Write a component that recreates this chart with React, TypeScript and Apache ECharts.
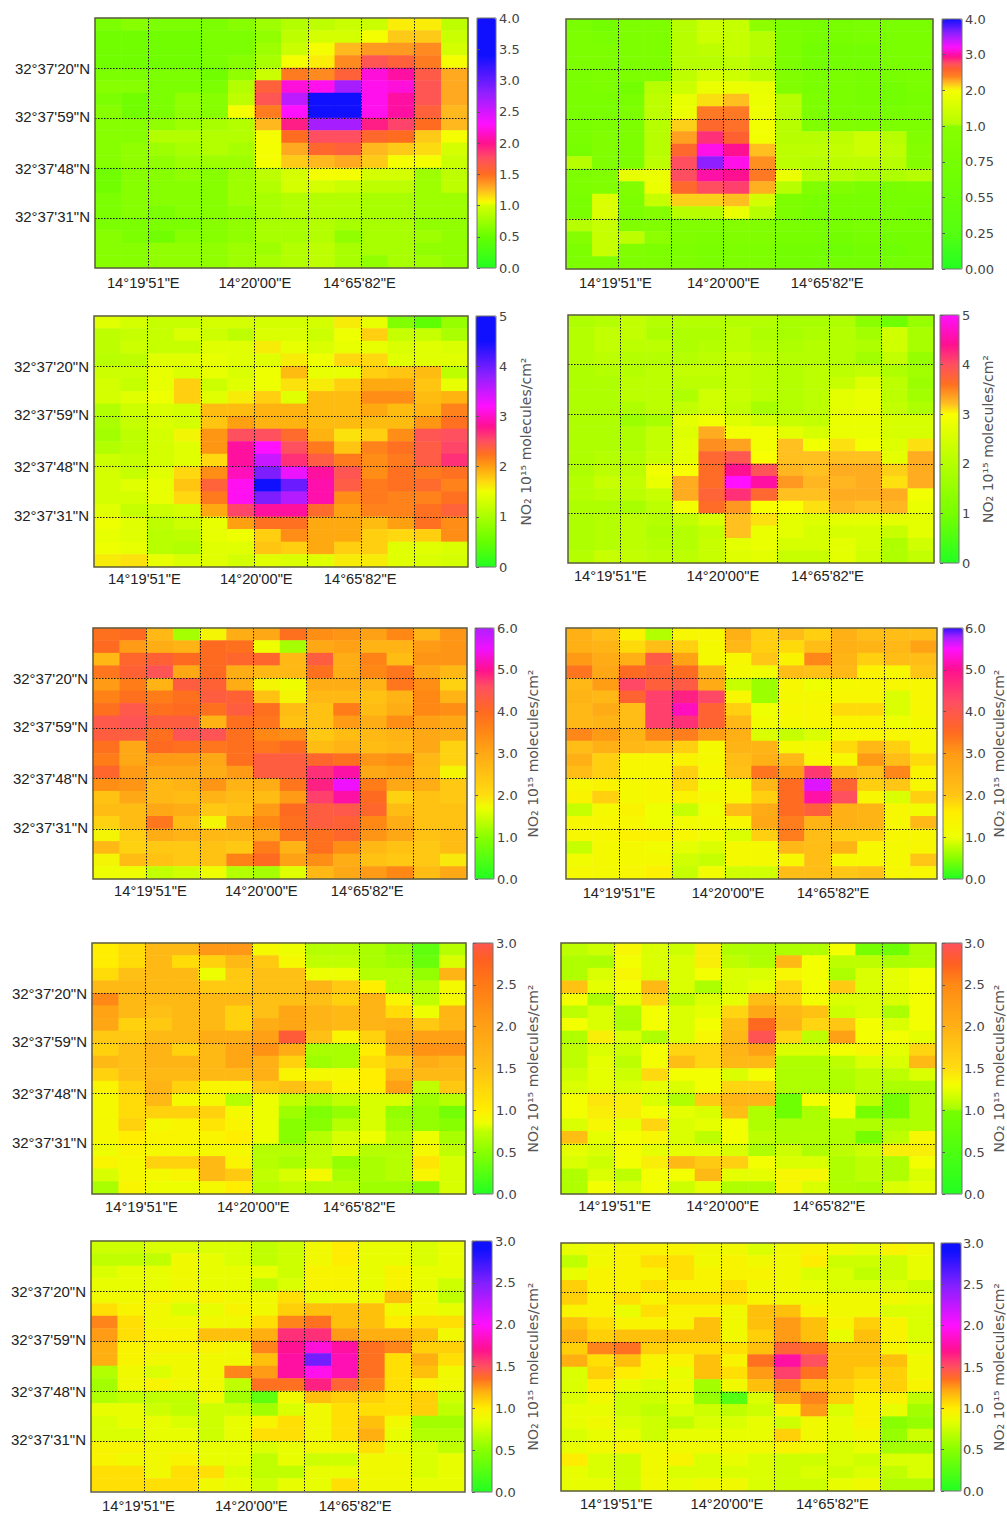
import React, { useEffect, useRef } from "react";
import * as echarts from "echarts";

const lonLabels = ["14°19'51\"E", "14°20'00\"E", "14°65'82\"E"];
const latLabels = ["32°37'20\"N", "32°37'59\"N", "32°37'48\"N", "32°37'31\"N"];
const barTitle = "NO₂ 10¹⁵ molecules/cm²";

const ticks40 = ["0.0", "0.5", "1.0", "1.5", "2.0", "2.5", "3.0", "3.5", "4.0"];
const ticksUneven = ["0.00", "0.25", "0.55", "0.75", "1.0", "2.0", "3.0", "4.0"];
const ticks5 = ["0", "1", "2", "3", "4", "5"];
const ticks60 = ["0.0", "1.0", "2.0", "3.0", "4.0", "5.0", "6.0"];
const ticks30 = ["0.0", "0.5", "1.0", "1.5", "2.0", "2.5", "3.0"];

const panel1 = [
  [.6,.65,.6,.6,.6,.65,.75,.85,.9,.95,.95,1.1,1.1,.9],
  [.55,.55,.55,.55,.6,.6,.7,.9,1.0,1.0,1.05,1.2,1.2,.95],
  [.55,.55,.55,.55,.6,.6,.75,.95,1.05,1.25,1.35,1.35,1.4,1.0],
  [.55,.55,.55,.55,.6,.65,.8,1.05,1.1,1.4,1.7,1.6,1.45,1.05],
  [.6,.6,.6,.6,.55,.7,.95,1.45,1.4,1.6,2.2,2.05,1.65,1.3],
  [.65,.65,.6,.6,.6,.85,1.6,2.2,2.25,2.7,2.25,2.2,1.7,1.3],
  [.6,.55,.6,.7,.65,.9,1.7,2.6,3.6,3.6,2.25,2.05,1.7,1.3],
  [.65,.55,.6,.7,.65,1.05,1.45,2.3,3.6,3.6,2.25,2.05,1.6,1.25],
  [.65,.65,.7,.75,.8,.85,1.25,1.95,2.7,2.7,1.95,1.8,1.5,1.25],
  [.65,.65,.85,.85,.85,.85,1.05,1.5,1.75,1.75,1.55,1.5,1.2,1.05],
  [.65,.7,.75,.8,.85,.8,1.05,1.3,1.55,1.6,1.25,1.2,1.15,1.0],
  [.65,.7,.7,.75,.75,.75,1.05,1.2,1.25,1.3,1.2,1.05,1.05,.95],
  [.55,.65,.65,.7,.65,.75,.9,1.0,1.05,1.05,1.0,1.0,.75,.9],
  [.55,.65,.65,.65,.65,.75,.85,1.0,1.0,.95,.9,.9,.75,.9],
  [.6,.65,.65,.65,.65,.75,.8,.85,.85,.85,.8,.8,.75,.75],
  [.6,.65,.6,.65,.65,.7,.8,.85,.85,.85,.8,.8,.75,.75],
  [.6,.6,.6,.6,.65,.7,.8,.8,.85,.8,.8,.8,.7,.7],
  [.65,.6,.55,.65,.65,.7,.8,.8,.85,.7,.8,.8,.75,.7],
  [.65,.65,.7,.7,.7,.75,.75,.85,.9,.8,.8,.8,.7,.7],
  [.65,.65,.7,.7,.7,.75,.8,.85,.9,.8,.7,.8,.75,.7],
];
const panel2 = [
  [.8,.7,.85,.85,1.1,1.4,1.3,1.0,.8,.75,.75,.8,.8,.8],
  [.85,.8,.85,.85,1.1,1.4,1.3,1.1,.85,.75,.75,.8,.8,.8],
  [.85,.85,.85,.85,1.1,1.2,1.3,1.1,.85,.7,.7,.7,.8,.8],
  [.85,.85,.85,.85,1.1,1.1,1.2,1.05,.85,.7,.7,.7,.8,.8],
  [.8,.85,.85,.85,1.2,1.5,1.4,1.2,.9,.8,.8,.75,.75,.8],
  [.8,.85,.7,1.1,1.4,1.85,1.85,1.8,.9,.8,.8,.75,.7,.8],
  [.8,.8,.8,1.2,1.8,2.1,2.2,1.85,1.1,.85,.8,.75,.7,.75],
  [.8,.8,.85,1.2,1.85,2.45,2.45,1.9,1.1,.85,.8,.8,.75,.8],
  [.8,.85,.85,1.1,2.15,2.55,2.5,1.95,1.1,.9,.9,.85,.85,.85],
  [.8,.9,.85,1.1,2.3,2.85,2.6,1.95,1.1,1.1,1.2,1.4,1.1,.9],
  [.75,.9,.85,1.1,2.55,3.15,2.95,2.2,1.15,1.2,1.25,1.4,1.2,.95],
  [1.1,.9,.85,1.2,2.75,3.6,3.15,2.35,1.15,1.1,1.2,1.2,1.1,.95],
  [.85,.9,1.8,1.85,2.75,3.0,2.95,2.45,1.85,1.1,1.1,1.05,1.05,1.1],
  [.85,.9,.9,1.85,2.55,2.75,2.8,2.25,1.1,.9,.9,.8,.75,.8],
  [.8,1.6,.85,1.3,2.15,2.15,2.2,1.5,.85,.8,.75,.75,.75,.75],
  [.8,1.6,.85,.95,1.1,1.1,1.85,1.1,.85,.75,.75,.75,.75,.7],
  [1.1,1.3,.9,.9,.9,.9,.95,.9,.8,.75,.75,.8,.75,.75],
  [.95,1.3,1.2,1.0,.9,.85,.9,.9,.75,.75,.7,.75,.7,.7],
  [.85,1.3,.9,.85,.85,.8,.85,.85,.7,.7,.65,.7,.65,.7],
  [.85,.85,.85,.85,.85,.8,.85,.85,.7,.7,.7,.7,.7,.7],
];
const panel3 = [
  [1.4,1.3,1.2,1.2,1.3,1.3,1.3,1.3,1.3,1.6,1.45,.7,.45,.85],
  [1.15,1.2,1.2,1.35,1.25,1.15,1.35,1.35,1.25,1.5,1.75,1.2,1.2,1.0],
  [1.15,1.25,1.2,1.2,1.4,1.4,1.6,1.45,1.35,1.45,1.45,1.35,1.4,1.35],
  [1.1,1.15,1.4,1.4,1.45,1.4,1.4,1.6,1.5,1.7,1.7,1.4,1.4,1.4],
  [1.25,1.25,1.45,1.35,1.45,1.35,1.5,1.85,1.45,1.45,1.75,1.8,1.85,1.15],
  [1.3,1.2,1.45,1.75,1.25,1.4,1.5,1.65,1.6,1.75,1.95,1.95,1.8,1.45],
  [1.3,1.4,1.5,1.75,1.4,1.6,1.75,1.4,1.85,1.85,2.1,2.1,1.85,1.9],
  [1.05,1.25,1.35,1.3,1.85,1.85,1.9,1.9,1.85,1.85,1.95,1.85,1.9,2.15],
  [1.0,1.2,1.35,1.3,1.8,2.0,1.9,1.9,1.85,1.85,1.85,1.85,2.05,2.25],
  [.95,1.15,1.3,1.55,2.05,2.5,2.5,2.3,1.9,1.65,1.75,2.1,2.45,2.5],
  [1.05,1.15,1.3,1.4,2.05,2.85,3.2,2.5,2.2,1.8,2.15,2.25,2.4,2.55],
  [1.25,1.2,1.3,1.4,1.7,2.85,3.5,2.65,2.4,2.2,2.1,2.2,2.4,2.65],
  [1.3,1.2,1.4,1.7,2.1,2.95,3.9,3.3,2.85,2.45,2.1,2.25,2.2,2.25],
  [1.3,1.4,1.45,1.8,2.35,3.15,4.6,4.0,2.9,2.4,2.2,2.25,2.3,2.15],
  [1.3,1.3,1.45,1.7,2.2,3.15,3.9,3.6,2.9,2.1,2.2,2.15,2.15,2.25],
  [1.4,1.2,1.25,1.3,1.95,2.55,2.85,2.85,2.3,2.0,2.15,2.15,2.25,2.35],
  [1.5,1.4,1.15,1.25,1.45,2.0,2.25,2.25,1.95,1.95,1.85,2.0,2.25,2.1],
  [1.45,1.4,1.1,1.15,1.45,1.5,1.75,2.1,1.95,1.95,1.75,1.7,1.75,2.1],
  [1.5,1.45,1.1,1.05,1.4,1.4,1.8,1.75,1.95,1.75,1.75,1.4,1.4,1.35],
  [1.6,1.65,1.45,1.35,1.4,1.3,1.4,1.35,1.4,1.6,1.6,1.4,1.35,1.3],
];
const panel4 = [
  [1.9,2.0,2.2,2.0,2.0,2.0,2.0,2.0,1.8,1.8,1.9,1.3,.9,1.5],
  [2.0,2.2,2.2,1.9,1.9,1.9,2.1,1.9,1.8,1.9,2.0,1.7,2.4,1.8],
  [2.0,2.2,2.1,2.1,1.9,2.0,2.1,2.0,1.9,2.0,2.0,1.9,2.4,1.8],
  [2.0,2.1,2.0,2.0,2.0,2.1,2.3,2.1,2.0,2.0,2.0,1.7,2.2,1.5],
  [1.9,2.0,2.0,2.1,2.2,2.2,2.2,2.1,2.0,2.1,2.1,2.2,1.9,1.7],
  [1.9,1.9,2.1,2.1,2.1,2.1,2.2,2.1,2.0,2.1,2.3,2.6,2.1,1.6],
  [1.9,1.9,2.1,2.1,1.9,2.4,2.3,2.1,2.0,2.1,2.7,2.8,2.1,1.7],
  [1.9,1.9,1.9,2.1,2.2,2.4,2.2,1.8,2.0,2.1,2.7,2.8,2.2,1.9],
  [1.9,1.9,1.6,1.8,2.7,2.9,2.6,2.4,2.3,2.2,2.8,2.8,2.5,2.5],
  [1.9,1.9,1.9,2.2,2.6,3.3,2.9,2.9,2.7,2.5,2.8,2.8,2.5,2.5],
  [1.9,1.9,1.9,2.2,2.7,3.45,3.35,2.9,3.2,2.9,3.1,2.9,2.6,3.1],
  [1.9,2.0,2.0,2.3,2.7,3.7,3.9,3.0,3.2,3.2,3.2,3.2,2.7,3.3],
  [1.9,2.1,2.1,2.9,3.0,3.65,4.4,3.95,3.25,3.2,3.3,3.3,3.15,3.3],
  [2.0,2.3,2.2,2.8,3.3,3.65,5.0,4.5,3.4,3.25,3.25,3.3,3.1,3.3],
  [2.0,2.1,2.1,2.3,3.3,3.75,4.2,3.7,3.2,3.2,3.3,3.3,3.3,2.9],
  [1.9,1.9,1.8,2.1,2.9,3.65,3.4,3.0,3.0,3.1,3.25,3.2,3.25,2.8],
  [1.9,2.0,2.1,2.0,2.2,2.5,3.2,3.1,2.7,2.6,2.7,2.7,2.7,2.7],
  [1.9,2.0,2.1,1.9,2.0,2.2,3.2,2.8,2.7,2.5,2.5,2.5,2.3,2.7],
  [1.9,2.0,2.1,2.0,2.0,2.3,2.7,2.8,2.5,2.5,2.7,2.5,1.9,2.4],
  [2.0,2.3,2.2,2.1,2.1,2.3,2.6,2.7,2.3,2.3,2.7,2.4,1.9,2.2],
];
const panel5 = [
  [3.9,4.0,2.7,1.2,1.8,2.9,3.0,3.9,3.4,3.3,3.1,3.5,2.8,3.3],
  [4.0,3.2,2.9,2.8,4.0,3.9,1.7,1.2,3.0,3.1,2.8,2.8,3.2,3.3],
  [2.7,4.1,4.2,4.0,4.0,4.1,4.1,2.7,4.3,2.9,3.6,2.6,3.3,3.3],
  [3.8,4.2,4.5,3.0,4.0,2.9,2.7,2.7,3.9,2.9,3.5,3.8,3.0,2.7],
  [3.2,3.7,2.8,4.3,4.2,2.9,1.8,1.7,2.9,2.9,2.8,3.8,3.4,2.2],
  [3.6,3.9,3.7,3.9,4.3,4.2,2.5,1.8,2.7,2.7,2.5,2.8,3.5,2.8],
  [3.9,4.4,3.9,4.0,3.9,4.3,3.9,2.6,2.5,3.7,2.6,2.9,3.5,3.4],
  [4.4,4.5,4.3,4.3,2.8,3.9,3.8,2.5,2.5,3.2,2.9,3.4,3.1,3.0],
  [4.3,4.3,3.9,4.5,4.5,3.9,3.5,3.4,2.4,2.6,2.7,2.8,3.0,2.9],
  [3.9,3.0,4.0,3.9,3.8,3.9,3.8,4.0,2.6,2.8,2.6,2.7,3.0,2.2],
  [3.7,3.0,3.2,3.2,3.0,3.9,4.3,4.3,4.1,3.9,3.3,3.4,2.7,2.2],
  [4.1,3.2,3.0,3.0,2.9,3.2,4.3,4.3,4.8,5.1,3.0,3.1,2.6,1.8],
  [3.4,3.3,2.7,2.8,3.3,2.8,2.9,3.8,4.9,5.5,3.7,3.0,2.9,2.4],
  [2.5,3.0,2.7,2.6,2.8,2.6,2.6,3.2,4.7,5.1,4.0,2.2,2.5,2.4],
  [2.6,2.6,3.0,2.9,2.4,2.5,3.2,4.0,4.3,4.4,4.1,2.6,2.5,2.5],
  [2.2,2.6,3.8,2.6,1.8,3.1,3.5,3.9,4.3,4.2,3.5,2.9,2.5,2.5],
  [1.8,2.3,2.9,2.8,2.7,2.7,3.0,3.8,3.9,4.1,3.3,3.0,2.5,2.6],
  [2.7,2.2,2.4,2.4,2.5,2.4,3.7,2.8,3.9,3.4,2.7,2.5,2.4,2.6],
  [1.8,2.6,2.5,2.4,2.5,3.6,4.0,3.1,3.4,2.9,2.5,2.4,2.4,1.9],
  [1.7,1.7,1.4,1.5,1.7,1.3,1.2,1.6,2.7,3.0,3.2,3.5,2.6,3.0],
];
const panel6 = [
  [2.5,2.2,1.4,.7,1.3,1.3,2.5,1.9,2.2,1.9,2.5,2.2,2.2,2.2],
  [2.5,2.4,1.8,2.2,1.9,1.2,2.3,1.9,1.8,2.2,2.5,2.4,2.3,2.8],
  [3.0,2.6,2.5,3.9,2.8,1.2,1.3,2.0,1.4,3.2,2.4,1.9,2.2,2.2],
  [3.4,2.7,3.5,3.7,3.5,2.4,1.2,1.1,2.2,2.1,2.3,1.5,1.3,2.0],
  [2.3,2.9,4.3,3.8,3.9,2.6,.8,.6,1.3,1.0,1.2,1.3,1.3,1.3],
  [2.4,2.3,3.7,4.4,4.8,4.3,1.3,.6,1.2,1.2,1.3,1.3,.9,1.3],
  [2.3,2.6,2.2,4.4,5.2,3.7,1.9,1.0,1.3,1.3,1.8,1.8,.9,1.3],
  [2.3,2.4,2.2,4.4,4.6,3.7,2.3,1.1,1.2,1.3,1.4,1.4,1.0,1.2],
  [3.2,3.0,2.4,3.2,3.3,2.9,2.5,.9,.8,.9,1.2,1.3,1.3,1.3],
  [2.2,2.5,2.3,2.2,1.9,1.2,2.4,2.4,1.2,1.2,1.8,2.3,1.9,1.3],
  [2.5,1.9,1.3,1.3,1.4,1.2,2.2,2.5,2.3,1.3,1.3,3.0,2.2,1.8],
  [2.2,1.9,1.3,1.3,1.9,1.3,2.1,3.4,3.0,4.5,2.4,2.1,3.2,1.4],
  [1.3,1.4,1.2,1.3,1.8,1.0,1.2,2.3,3.5,5.6,3.7,1.9,2.0,1.3],
  [1.4,1.9,1.2,1.3,1.4,1.2,1.3,1.9,3.5,5.1,4.2,1.3,.9,1.9],
  [.8,1.2,1.4,1.0,.8,1.0,2.2,2.6,3.5,3.8,2.5,2.4,1.3,1.1],
  [1.3,1.3,1.3,1.0,1.1,1.1,1.3,2.7,3.3,2.4,2.5,2.4,1.3,2.3],
  [1.3,1.3,1.5,1.5,1.3,1.1,.9,1.9,3.3,2.2,1.9,1.9,1.3,1.3],
  [.8,1.2,1.2,1.1,.95,.9,1.2,1.2,2.3,2.2,2.4,1.3,1.2,1.3],
  [1.1,1.2,1.2,1.2,.85,.8,1.2,1.2,1.3,2.2,1.3,1.3,1.2,2.0],
  [1.2,1.2,1.3,1.5,.8,1.1,.85,.85,2.2,2.2,2.0,2.1,1.3,1.3],
];
const panel7 = [
  [1.0,1.2,1.6,1.6,2.1,2.1,.9,.85,.7,.7,.65,.55,.3,.7],
  [1.0,1.2,1.6,1.2,1.3,1.6,1.4,.9,.75,.75,.65,.6,.35,.8],
  [1.2,1.5,1.6,1.6,.85,1.4,1.5,1.5,.85,.85,.7,.7,.55,1.7],
  [1.6,1.6,1.6,1.6,1.4,1.4,1.5,1.5,1.7,1.4,1.0,.7,.7,.9],
  [2.3,1.6,1.6,1.6,1.6,1.6,1.5,1.5,1.5,1.3,1.7,.95,.75,.9],
  [1.95,1.6,1.5,1.6,1.6,1.3,1.5,1.9,1.7,1.6,1.7,1.2,.85,1.65],
  [1.9,1.3,1.4,1.6,1.6,1.3,1.8,1.9,1.7,1.6,1.7,1.75,1.4,1.65],
  [1.4,1.4,1.6,1.6,1.8,1.8,2.0,2.9,1.5,.95,1.3,1.9,2.0,2.0],
  [1.3,1.5,1.7,1.3,1.6,1.9,2.2,1.8,.65,.65,1.0,1.9,2.2,2.2],
  [1.6,1.5,1.7,1.7,1.6,1.9,1.75,1.3,.6,.65,1.2,1.4,1.8,1.7],
  [1.3,1.5,1.6,1.6,1.6,1.6,1.75,.95,.9,.9,1.0,1.7,1.6,1.6],
  [.95,1.3,1.7,1.3,.95,.95,1.4,1.5,1.3,.95,1.0,2.0,.75,1.4],
  [.9,1.2,1.6,.9,.9,.7,.85,.75,.65,.75,.8,.8,.6,.7],
  [.9,1.2,1.3,1.3,1.3,.9,.85,.6,.45,.55,.8,.55,.55,.4],
  [.9,1.3,.9,.95,1.1,.95,.85,.5,.5,.7,.8,.6,.55,.5],
  [.9,1.0,.95,.95,.95,1.0,.85,.5,.7,.8,.85,.7,.85,.65],
  [.85,.95,.9,.9,.9,.9,.7,.7,.75,.8,.7,.7,.9,.75],
  [.95,.9,1.3,1.3,1.6,.95,.7,.65,.75,.55,.65,.7,1.1,.8],
  [.8,.9,.9,.95,1.6,1.4,.75,.8,.9,.65,.65,.7,.95,.8],
  [.65,.95,.85,.85,.9,1.0,.7,.75,.7,.7,.6,.6,.5,.8],
];
const panel8 = [
  [1.1,1.15,1.35,1.2,1.15,1.4,1.05,1.03,1.04,1.05,1.3,.98,.9,1.04],
  [1.05,1.03,1.3,1.2,1.2,1.4,1.1,1.05,1.9,1.3,1.1,1.1,1.03,1.05],
  [1.05,1.2,1.35,1.2,1.2,1.3,1.2,1.2,1.35,1.3,1.04,1.2,1.25,1.3],
  [1.8,1.25,1.3,1.9,1.2,1.03,1.2,1.25,1.6,1.3,1.7,1.2,1.25,1.3],
  [1.3,1.04,1.25,1.6,1.1,1.2,1.25,1.85,1.65,1.3,1.2,1.2,1.2,1.3],
  [1.1,1.2,1.05,1.3,1.2,1.25,1.6,2.1,1.9,1.8,1.15,1.2,1.03,1.3],
  [1.3,1.2,1.03,1.3,1.2,1.3,1.85,2.7,1.95,1.6,1.75,1.3,1.2,1.3],
  [1.05,1.4,1.2,1.05,1.2,1.35,1.9,2.95,1.6,1.1,2.2,1.3,1.3,1.25],
  [1.1,1.2,1.15,1.3,1.6,1.6,1.95,2.2,1.2,1.2,1.3,1.35,1.25,1.6],
  [1.1,1.25,1.1,1.3,1.85,1.6,1.9,1.9,1.05,1.05,1.1,1.2,1.2,1.9],
  [1.15,1.25,1.15,1.55,1.3,1.3,1.2,1.3,1.04,1.04,1.05,1.1,1.1,1.2],
  [1.2,1.25,1.2,1.25,1.2,1.3,1.6,1.6,1.05,1.03,1.04,1.1,1.03,1.03],
  [1.3,1.45,1.4,1.2,1.05,1.7,1.95,1.95,.9,1.3,1.3,1.1,.98,1.05],
  [1.3,1.4,1.4,1.3,1.25,1.2,1.85,1.05,.9,1.03,1.3,.98,.98,1.05],
  [1.2,1.35,1.25,1.6,1.2,1.25,1.3,1.05,1.03,1.04,1.05,1.05,1.03,1.05],
  [1.85,1.25,1.3,1.35,1.2,1.1,1.3,1.1,1.04,1.05,1.05,.98,1.1,1.35],
  [1.25,1.2,1.3,1.25,1.25,1.25,1.2,1.05,1.15,1.05,1.1,1.15,1.4,1.4],
  [1.2,1.15,1.3,1.4,1.9,1.7,1.65,1.3,1.2,1.2,1.05,1.1,1.05,1.3],
  [1.05,1.2,1.1,1.3,1.3,1.9,1.25,1.25,1.35,1.35,1.05,1.1,1.05,1.2],
  [1.05,1.3,1.2,1.3,1.15,1.25,1.05,1.05,1.35,1.2,1.05,1.03,1.2,1.25],
];
const panel9 = [
  [.75,.75,.8,.8,.8,.8,.7,.75,.9,1.0,.85,.85,.8,.85],
  [.7,.7,.7,.9,.85,.8,.7,.75,.9,1.0,.85,.85,.8,.85],
  [.8,.85,.85,.9,.85,.85,.85,.75,.95,.95,.85,.95,.85,.85],
  [.85,.85,.85,.9,.85,.85,.7,.8,.95,.95,.85,.95,.85,.75],
  [.9,.9,.95,.9,.95,.9,.9,1.05,.85,.9,.9,1.15,.9,.7],
  [1.05,.95,.9,.8,.85,.95,.9,1.1,1.15,1.15,1.15,.9,.9,.85],
  [1.3,1.05,.9,.9,.9,.9,1.05,1.3,1.35,1.15,1.15,1.0,1.05,1.05],
  [1.25,1.05,.95,.95,1.15,1.15,1.2,1.6,1.6,1.25,1.2,1.2,1.15,.9],
  [1.2,.95,.95,.95,.95,.9,1.3,1.7,1.9,1.75,1.35,1.3,1.1,1.1],
  [1.2,.95,.9,.9,.9,.9,1.15,1.75,2.55,1.8,1.35,1.05,1.2,1.05],
  [.65,.9,.8,.9,.9,1.3,1.25,1.75,1.95,1.8,1.35,1.05,1.15,.9],
  [.6,.9,.95,.9,.9,.7,1.35,1.35,1.65,1.4,1.3,1.05,.95,.9],
  [.65,.7,.7,.7,.9,.6,.3,.9,1.15,1.1,1.1,1.05,1.1,.75],
  [.85,.85,.75,.7,.75,.75,.6,.8,.9,1.05,1.05,1.05,1.1,.7],
  [.8,.85,.85,.8,.75,.85,.95,1.05,.9,1.05,1.15,.9,.6,.6],
  [.8,.8,.85,.85,.75,.85,1.05,1.05,.9,1.05,1.2,.85,.65,.65],
  [.95,.95,.9,.9,.85,.85,.8,.85,.9,.9,1.05,.85,.8,.7],
  [.95,.9,.9,.95,.85,.85,.7,.85,.75,.75,.9,.9,.8,.85],
  [1.05,1.05,.9,1.05,1.05,.8,.7,.7,.85,.85,.9,.9,.8,.85],
  [1.05,1.05,1.05,1.05,.9,.85,.75,.85,.85,1.05,.9,.9,.85,.85],
];
const panel10 = [
  [.85,.9,.95,.95,.95,.9,.9,.8,.9,.95,.9,.85,.95,.9],
  [.7,.9,.95,1.05,1.05,.9,.95,.9,.9,1.0,.75,.75,.75,.85],
  [.85,.95,.95,.95,1.05,.95,.95,.95,.9,.8,.8,.7,.75,.85],
  [1.1,.95,.95,1.05,.95,.95,1.05,.9,.9,.85,.8,.8,.8,.75],
  [1.1,.95,1.05,.95,1.05,1.05,1.05,.95,.9,.9,.9,.9,.9,.85],
  [.95,.95,.85,1.05,.95,.95,.9,1.15,1.15,.95,.9,.9,.8,.8],
  [1.15,1.05,.95,.95,.95,1.15,.9,1.15,1.25,1.15,.95,1.1,.95,.8],
  [1.2,1.1,1.15,1.15,1.15,1.15,.9,1.1,1.25,1.15,.85,1.15,.95,.8],
  [1.1,1.3,1.35,1.1,1.05,1.05,1.05,1.15,1.4,1.35,1.15,1.15,.95,.85],
  [1.2,1.05,1.15,.95,.95,1.15,.95,1.35,1.75,1.5,1.15,1.15,1.15,.9],
  [.8,1.1,1.0,.95,.85,1.15,1.05,1.25,1.55,1.35,1.15,1.1,1.1,.9],
  [.8,1.0,.85,.8,.9,.6,.9,1.15,1.3,1.15,1.1,1.05,1.1,.95],
  [.8,.9,.75,.75,.85,.55,.25,.8,1.2,1.3,1.1,.95,.95,.7],
  [.85,.85,.75,.7,.8,.75,.7,.75,.95,1.25,.8,.95,.85,.6],
  [.85,.9,.8,.75,.7,.8,.8,.85,.75,.9,.85,.95,.5,.55],
  [.8,.85,.85,.75,.85,.85,.85,.85,1.1,.9,.85,.9,.55,.75],
  [.85,.9,.95,.9,.9,.9,.9,.9,.95,.9,.8,.85,.6,.6],
  [1.0,.8,.75,.9,.95,.8,.85,.8,.75,.75,.8,.75,.8,.8],
  [.85,.8,.75,.9,.8,.8,.8,.8,.75,.8,.75,.8,.7,.8],
  [.85,.85,.75,.9,.85,.9,.9,.8,.75,.75,.85,.9,.65,.65],
];

type Stop = [number, string];
const cmap1: Stop[] = [[0,"#22ff22"],[.5,"#66ff00"],[1,"#d4ff00"],[1.05,"#f8ff00"],[1.25,"#ffb820"],[1.5,"#ff6c20"],[1.75,"#ff5060"],[2,"#ff1090"],[2.3,"#ff10ff"],[2.8,"#9020ff"],[3.4,"#1010ff"],[4,"#1010ff"]];
const cmap2: Stop[] = [[0,"#22ff22"],[.25,"#55ff11"],[.75,"#77ff00"],[1,"#88ff00"],[1.05,"#b4ff00"],[2,"#f5ff00"],[2.2,"#ffc020"],[2.4,"#ff8020"],[2.6,"#ff6030"],[2.75,"#ff5060"],[2.95,"#ff1090"],[3.2,"#ff10ff"],[3.6,"#9020ff"],[4,"#1010ff"]];
const cmap3: Stop[] = [[0,"#22ff22"],[.5,"#66ff00"],[1,"#aaff00"],[1.5,"#eeff00"],[1.7,"#ffd810"],[2,"#ffa010"],[2.25,"#ff7020"],[2.5,"#ff5060"],[2.8,"#ff1090"],[3.2,"#ff10ff"],[3.8,"#9020ff"],[4.5,"#1010ff"],[5,"#1010ff"]];
const cmap4: Stop[] = [[0,"#22ff22"],[1,"#77ff00"],[2,"#b4ff00"],[3,"#f8ff00"],[3.2,"#ffc020"],[3.6,"#ff7020"],[4,"#ff5060"],[4.4,"#ff1090"],[5,"#ff10ff"]];
const cmap5: Stop[] = [[0,"#22ff22"],[1,"#88ff00"],[1.7,"#eeff00"],[2,"#ffdd10"],[3,"#ffa815"],[3.5,"#ff8815"],[4,"#ff6a20"],[4.6,"#ff5060"],[5,"#ff1090"],[5.5,"#f010ff"],[6,"#b020ff"]];
const cmap6: Stop[] = [[0,"#22ff22"],[.5,"#88ff00"],[1,"#eeff00"],[1.6,"#ffee00"],[2,"#ffc515"],[3,"#ff9a15"],[3.5,"#ff6a20"],[4.2,"#ff5060"],[5,"#ff1090"],[5.5,"#ff10ff"],[5.8,"#a020ff"],[6,"#3010ff"]];
const cmap7: Stop[] = [[0,"#22ff22"],[.5,"#88ff00"],[.75,"#c0ff00"],[.85,"#eeff00"],[1,"#ffee00"],[1.5,"#ffc015"],[2,"#ffa015"],[2.5,"#ff7a15"],[2.8,"#ff6020"],[3,"#ff5550"]];
const cmap8: Stop[] = [[0,"#22ff22"],[1,"#77ff00"],[1.02,"#a8ff00"],[1.3,"#f4ff00"],[1.5,"#ffdd10"],[2,"#ffb015"],[2.5,"#ff8a15"],[2.75,"#ff6020"],[3,"#ff5060"]];
const cmap9: Stop[] = [[0,"#22ff22"],[.5,"#88ff00"],[.85,"#e8ff00"],[1,"#ffee00"],[1.2,"#ffb010"],[1.35,"#ff7020"],[1.5,"#ff5060"],[1.7,"#ff1090"],[2,"#ff10ff"],[2.5,"#8020ff"],[2.9,"#1010ff"],[3,"#1010ff"]];

type Layout = { x0: number; x1: number; y0: number; y1: number; b0: number; b1: number; gap: number; margin: number; shift: number[] };
const panels: { data: number[][]; ticks: string[]; cmap: Stop[]; title: boolean; lat: boolean; l: Layout }[] = [
  { data: panel1, ticks: ticks40, cmap: cmap1, title: false, lat: true, l: { x0: 95, x1: 468, y0: 18, y1: 268, b0: 477, b1: 496, gap: 0, margin: 7, shift: [-5, 0, -2] } },
  { data: panel2, ticks: ticksUneven, cmap: cmap2, title: false, lat: false, l: { x0: 566, x1: 933, y0: 19, y1: 269, b0: 942, b1: 962, gap: 0, margin: 6, shift: [-3, 0, -1] } },
  { data: panel3, ticks: ticks5, cmap: cmap3, title: true, lat: true, l: { x0: 94, x1: 468, y0: 316, y1: 567, b0: 476, b1: 496, gap: 23, margin: 4, shift: [-3, 2, -1] } },
  { data: panel4, ticks: ticks5, cmap: cmap4, title: true, lat: false, l: { x0: 568, x1: 934, y0: 315, y1: 563, b0: 940, b1: 959, gap: 22, margin: 5, shift: [-10, -2, -2] } },
  { data: panel5, ticks: ticks60, cmap: cmap5, title: true, lat: true, l: { x0: 93, x1: 467, y0: 628, y1: 879, b0: 475, b1: 494, gap: 32, margin: 4, shift: [4, 8, 7] } },
  { data: panel6, ticks: ticks60, cmap: cmap6, title: true, lat: false, l: { x0: 566, x1: 937, y0: 628, y1: 879, b0: 943, b1: 963, gap: 30, margin: 6, shift: [0, 3, 2] } },
  { data: panel7, ticks: ticks30, cmap: cmap7, title: true, lat: true, l: { x0: 92, x1: 466, y0: 943, y1: 1194, b0: 473, b1: 493, gap: 33, margin: 5, shift: [-4, 1, 0] } },
  { data: panel8, ticks: ticks30, cmap: cmap8, title: true, lat: false, l: { x0: 561, x1: 936, y0: 943, y1: 1194, b0: 942, b1: 962, gap: 31, margin: 4, shift: [0, 1, 0] } },
  { data: panel9, ticks: ticks30, cmap: cmap9, title: true, lat: true, l: { x0: 91, x1: 465, y0: 1241, y1: 1492, b0: 472, b1: 492, gap: 34, margin: 7, shift: [-6, 0, -3] } },
  { data: panel10, ticks: ticks30, cmap: cmap9, title: true, lat: false, l: { x0: 561, x1: 934, y0: 1243, y1: 1491, b0: 941, b1: 961, gap: 32, margin: 5, shift: [2, 6, 5] } },
];

const rowIds = Array.from({ length: 20 }, (_, i) => String(i));
const colIds = Array.from({ length: 14 }, (_, i) => String(i));

function toPos(v: number, ticks: string[]): number {
  const vals = ticks.map(Number);
  const n = vals.length - 1;
  if (v <= vals[0]) return 0;
  for (let i = 0; i < n; i++) {
    if (v <= vals[i + 1]) return (i + (v - vals[i]) / (vals[i + 1] - vals[i])) / n;
  }
  return 1;
}
function hex(c: string): number[] {
  return [1, 3, 5].map((i) => parseInt(c.slice(i, i + 2), 16));
}
function buildColors(cmap: Stop[], ticks: string[]): string[] {
  const stops = cmap.map(([v, c]) => [toPos(v, ticks), hex(c)] as [number, number[]]);
  const out: string[] = [];
  const N = 200;
  for (let k = 0; k <= N; k++) {
    const p = k / N;
    let j = 0;
    while (j < stops.length - 2 && p > stops[j + 1][0]) j++;
    const [p0, c0] = stops[j];
    const [p1, c1] = stops[j + 1];
    const t = p1 > p0 ? Math.min(1, Math.max(0, (p - p0) / (p1 - p0))) : 1;
    const rgb = c0.map((a, i) => Math.round(a + (c1[i] - a) * t));
    out.push(`rgb(${rgb.join(",")})`);
  }
  return out;
}

const FONT_LABEL = "Liberation Sans";
const FONT_BAR = "DejaVu Sans";
const lonTickAt = [2, 6, 10];
const latTickAt = [4, 7.85, 12, 15.9];

function buildOption() {
  const grid: any[] = [];
  const xAxis: any[] = [];
  const yAxis: any[] = [];
  const series: any[] = [];
  const visualMap: any[] = [];
  const graphic: any[] = [];
  panels.forEach((p) => {
    const { x0, x1, y0, y1, b0, b1, gap, margin, shift } = p.l;
    const cellW = (x1 - x0) / 14;
    const g = grid.length;
    grid.push({ left: x0, top: y0, width: x1 - x0, height: y1 - y0 });
    const catX = xAxis.length;
    xAxis.push({ type: "category", gridIndex: g, data: colIds, show: false });
    xAxis.push({
      type: "value", gridIndex: g, position: "bottom", min: 0, max: 14, interval: 2, z: 5,
      axisLine: { show: false }, axisTick: { show: false },
      splitLine: { show: true, showMinLine: false, showMaxLine: false, lineStyle: { type: [1.5, 1.5], color: "#111", width: 1 } },
      axisLabel: {
        margin, fontFamily: FONT_LABEL, fontSize: 14.7, color: "#222",
        customValues: lonTickAt.map((t, k) => t + shift[k] / cellW),
        formatter: (v: number) => lonLabels[Math.max(0, Math.min(2, Math.round((v - 2) / 4)))],
      },
    });
    const catY = yAxis.length;
    yAxis.push({ type: "category", gridIndex: g, data: rowIds, inverse: true, show: false });
    yAxis.push({
      type: "value", gridIndex: g, position: "left", inverse: true, min: 0, max: 20, interval: 4, z: 5,
      axisLine: { show: false }, axisTick: { show: false },
      splitLine: { show: true, showMinLine: false, showMaxLine: false, lineStyle: { type: [1.5, 1.5], color: "#111", width: 1 } },
      axisLabel: p.lat
        ? {
            margin: 5, fontFamily: FONT_LABEL, fontSize: 15, color: "#222",
            customValues: latTickAt,
            formatter: (v: number) => latLabels[Math.max(0, Math.min(3, Math.round(v / 4) - 1))],
          }
        : { show: false },
    });
    const cells: number[][] = [];
    p.data.forEach((row, r) => row.forEach((v, c) => cells.push([c, r, toPos(v, p.ticks)])));
    const si = series.length;
    series.push({
      type: "heatmap", xAxisIndex: catX, yAxisIndex: catY, data: cells, silent: true,
      emphasis: { disabled: true }, progressive: 0, itemStyle: { borderWidth: 0 },
    });
    visualMap.push({
      type: "continuous", seriesIndex: si, dimension: 2, min: 0, max: 1, show: true, calculable: false,
      left: b0, top: y0, itemWidth: b1 - b0, itemHeight: y1 - y0, padding: 0, hoverLink: false,
      inRange: { color: buildColors(p.cmap, p.ticks) },
    });
    const gb = grid.length;
    grid.push({ left: b0, top: y0, width: b1 - b0, height: y1 - y0 });
    xAxis.push({ type: "value", gridIndex: gb, show: false, min: 0, max: 1 });
    yAxis.push({
      type: "value", gridIndex: gb, position: "right", min: 0, max: p.ticks.length - 1, interval: 1, z: 6,
      axisLine: { show: false },
      axisTick: { show: true, length: 3, lineStyle: { color: "#555" } },
      splitLine: { show: false },
      axisLabel: { margin: 3, fontFamily: FONT_BAR, fontSize: 13, color: "#444", formatter: (v: number) => p.ticks[v] },
      ...(p.title
        ? { name: barTitle, nameLocation: "middle", nameRotate: 90, nameGap: gap, nameMoveOverlap: false,
            nameTextStyle: { fontFamily: FONT_BAR, fontSize: 14, color: "#555", verticalAlign: "top" } }
        : {}),
    });
    graphic.push({
      type: "rect", silent: true, z: 20,
      shape: { x: x0, y: y0, width: x1 - x0, height: y1 - y0 },
      style: { fill: "none", stroke: "#5c5c44", lineWidth: 1.5 },
    });
    graphic.push({
      type: "rect", silent: true, z: 20,
      shape: { x: b0, y: y0, width: b1 - b0, height: y1 - y0 },
      style: { fill: "none", stroke: "#707070", lineWidth: 1 },
    });
  });
  return { animation: false, backgroundColor: "#fff", grid, xAxis, yAxis, series, visualMap, graphic };
}

export default function App() {
  const ref = useRef<HTMLDivElement>(null);
  useEffect(() => {
    const chart = echarts.init(ref.current!, undefined, { renderer: "svg" });
    chart.setOption(buildOption() as any);
    return () => chart.dispose();
  }, []);
  return <div ref={ref} style={{ position: "absolute", left: 0, top: 0, width: 1007, height: 1513 }} />;
}
